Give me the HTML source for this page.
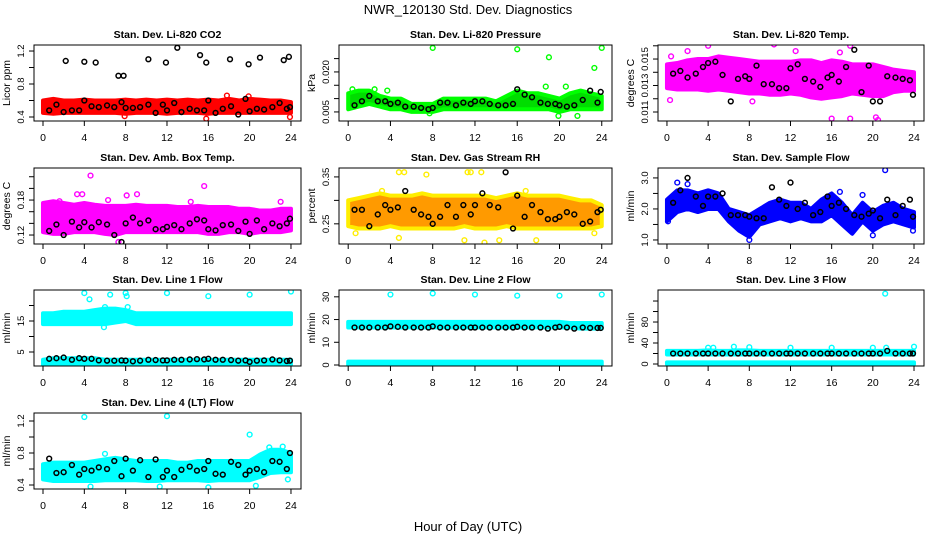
<!DOCTYPE html>
<html><head><meta charset="utf-8">
<style>
body{margin:0;background:#fff;}
svg text{font-family:"Liberation Sans",sans-serif;}
</style></head>
<body>
<svg id="chart" width="936" height="540" viewBox="0 0 936 540" xmlns="http://www.w3.org/2000/svg">
<rect x="0" y="0" width="936" height="540" fill="#fff"/>
<text x="468" y="14" font-size="13" text-anchor="middle">NWR_120130  Std. Dev. Diagnostics</text>
<text x="468" y="531" font-size="13" text-anchor="middle">Hour of Day (UTC)</text>
<g id="panels"></g>
</svg>
<script>
const hours = [0,1,2,3,4,5,6,7,8,9,10,11,12,13,14,15,16,17,18,19,20,21,22,23,24];
const blackHours = [0.6,1.3,2.0,2.8,3.5,4.0,4.7,5.4,6.2,6.9,7.6,8.0,8.7,9.4,10.2,10.9,11.6,12.0,12.7,13.4,14.2,14.9,15.6,16.0,16.7,17.4,18.2,18.9,19.6,20.0,20.7,21.4,22.2,22.9,23.6,23.9];
const xTicks = [0,4,8,12,16,20,24];

// CO2
const co2Lo = [0.45,0.44,0.45,0.45,0.45,0.45,0.45,0.45,0.44,0.45,0.45,0.45,0.44,0.45,0.45,0.45,0.44,0.45,0.45,0.45,0.45,0.45,0.45,0.45,0.45];
const co2Hi = [0.6,0.62,0.6,0.6,0.61,0.6,0.6,0.6,0.61,0.6,0.61,0.6,0.61,0.6,0.61,0.6,0.61,0.6,0.62,0.6,0.62,0.61,0.6,0.6,0.58];
const co2OutX = [7.9,15.8,17.8,19.9,23.9];
const co2OutY = [0.41,0.38,0.66,0.65,0.4];
const co2Black = [0.48,0.55,0.46,0.48,0.48,0.6,0.53,0.52,0.54,0.52,0.58,0.51,0.51,0.52,0.55,0.45,0.55,0.48,0.57,0.46,0.5,0.48,0.48,0.6,0.45,0.5,0.53,0.43,0.62,0.47,0.5,0.49,0.52,0.57,0.5,0.52];
const co2HighX = [2.2,4.0,5.1,7.3,7.8,10.2,11.9,13.0,15.2,15.8,18.1,19.9,21.0,23.3,23.8];
const co2HighY = [1.08,1.07,1.06,0.9,0.9,1.1,1.06,1.24,1.15,1.06,1.1,1.04,1.12,1.09,1.13];

// Pressure
const presLo = [0.006,0.007,0.008,0.007,0.006,0.006,0.005,0.005,0.005,0.006,0.006,0.006,0.006,0.006,0.006,0.006,0.006,0.006,0.006,0.006,0.005,0.006,0.006,0.006,0.006];
const presHi = [0.012,0.013,0.013,0.011,0.010,0.010,0.008,0.008,0.008,0.010,0.010,0.010,0.010,0.010,0.009,0.011,0.013,0.012,0.012,0.011,0.010,0.012,0.013,0.012,0.011];
const presOutX = [8.0,16.0,19.0,23.3,24.0,18.7,20.6,19.9,21.7,7.7,0.4,2.5,3.7];
const presOutY = [0.029,0.0285,0.0255,0.0215,0.029,0.0145,0.0145,0.0035,0.0035,0.0045,0.0135,0.0135,0.013];
const presBlack = [0.0075,0.009,0.011,0.009,0.009,0.008,0.0085,0.007,0.007,0.0065,0.006,0.0065,0.0085,0.0085,0.0075,0.0085,0.008,0.009,0.009,0.008,0.0075,0.0075,0.008,0.0135,0.0115,0.0105,0.0085,0.008,0.008,0.0075,0.007,0.0075,0.0095,0.013,0.0085,0.0125];

// Li-820 Temp
const tempLo = [0.0128,0.0127,0.0127,0.0127,0.0126,0.0127,0.0126,0.0125,0.0124,0.0124,0.0123,0.0123,0.0124,0.0123,0.0121,0.012,0.0121,0.0122,0.0124,0.0123,0.0122,0.0122,0.0125,0.0126,0.0126];
const tempHi = [0.0146,0.0147,0.0149,0.0150,0.0150,0.0152,0.0151,0.0150,0.0149,0.0148,0.0148,0.0148,0.0148,0.0149,0.0149,0.0147,0.0149,0.0148,0.0146,0.0146,0.0146,0.0144,0.0142,0.0141,0.0140];
const tempOutX = [0.3,2.0,4.0,8.3,10.4,12.5,16.0,17.8,17.8,18.8,20.3,20.5,0.4,16.8];
const tempOutY = [0.0119,0.0156,0.0160,0.0118,0.0161,0.0156,0.0105,0.0105,0.0160,0.0163,0.0106,0.0104,0.0152,0.0155];
const tempBlack = [0.0139,0.0141,0.0136,0.0139,0.0144,0.0147,0.0148,0.0138,0.0118,0.0135,0.0137,0.0135,0.0145,0.0131,0.0131,0.0128,0.0128,0.0143,0.0146,0.0135,0.0133,0.0129,0.0136,0.0138,0.0133,0.0144,0.0157,0.0125,0.0145,0.0118,0.0118,0.0137,0.0136,0.0135,0.0134,0.0123];

// Amb box temp
const ambLo = [0.125,0.122,0.122,0.125,0.125,0.125,0.122,0.12,0.125,0.125,0.125,0.125,0.125,0.125,0.125,0.125,0.122,0.122,0.125,0.125,0.122,0.125,0.125,0.125,0.128];
const ambHi = [0.175,0.178,0.175,0.172,0.175,0.172,0.17,0.17,0.17,0.172,0.17,0.17,0.17,0.168,0.168,0.17,0.168,0.168,0.168,0.165,0.165,0.162,0.162,0.165,0.165];
const ambOutX = [4.6,15.6,3.3,3.8,8.1,9.1,1.6,23.0,7.3,0.8,6.3,14.3];
const ambOutY = [0.222,0.204,0.19,0.19,0.188,0.19,0.178,0.177,0.108,0.175,0.18,0.177];
const ambBlack = [0.127,0.138,0.12,0.143,0.133,0.142,0.133,0.142,0.138,0.12,0.108,0.14,0.15,0.14,0.145,0.13,0.13,0.134,0.137,0.13,0.14,0.147,0.145,0.13,0.128,0.137,0.138,0.127,0.143,0.122,0.145,0.13,0.14,0.135,0.14,0.148];

// Gas stream RH
const rhLo = [0.245,0.24,0.24,0.24,0.245,0.24,0.24,0.24,0.24,0.24,0.24,0.245,0.24,0.24,0.24,0.245,0.24,0.24,0.24,0.24,0.24,0.24,0.24,0.24,0.245];
const rhHi = [0.3,0.305,0.31,0.315,0.31,0.31,0.31,0.315,0.31,0.31,0.31,0.31,0.31,0.31,0.305,0.31,0.315,0.31,0.31,0.31,0.31,0.305,0.3,0.3,0.29];
const rhOutX = [4.8,5.3,7.4,11.3,11.6,12.6,0.7,4.8,11.0,12.9,14.3,17.8,23.3,3.2,16.8];
const rhOutY = [0.36,0.36,0.355,0.36,0.36,0.36,0.23,0.22,0.215,0.21,0.215,0.215,0.23,0.32,0.32];
const rhBlack = [0.28,0.28,0.245,0.27,0.29,0.28,0.285,0.32,0.28,0.27,0.265,0.25,0.265,0.29,0.265,0.29,0.27,0.29,0.315,0.29,0.285,0.36,0.24,0.31,0.265,0.29,0.275,0.26,0.26,0.265,0.275,0.27,0.25,0.255,0.275,0.28];

// Sample flow
const sfLo = [1.6,1.9,2.0,1.9,2.0,2.0,1.6,1.3,1.1,1.5,1.6,1.7,1.6,1.7,1.6,1.6,1.8,1.5,1.2,1.6,1.3,1.5,1.6,1.5,1.4];
const sfHi = [2.3,2.6,2.6,2.5,2.6,2.5,2.0,1.9,1.8,2.0,2.2,2.3,2.2,2.2,2.0,2.3,2.5,2.2,1.8,2.2,1.9,2.1,2.2,2.0,1.9];
const sfOutX = [1.0,2.0,21.2,23.9,20.0,8.0,0.1,16.8,19.0];
const sfOutY = [2.85,2.8,3.25,1.3,1.15,1.0,1.6,2.55,2.45];
const sfBlack = [2.2,2.6,3.0,2.4,2.1,2.4,2.4,2.5,1.8,1.8,1.8,1.75,1.7,1.7,2.7,2.3,2.1,2.85,2.0,2.2,1.8,1.9,2.4,2.1,2.2,2.0,1.8,1.75,1.85,1.95,1.7,2.3,1.8,2.1,2.3,1.75];

// Line 1
const l1Lo = [14,14,14,14,14,14,14,14.5,15,14,14,14,14,14,14,14,14,14,14,14,14,14,14,14,14];
const l1Hi = [17.5,17.5,18,18,18,18.5,19,19,18.5,17.5,17.5,17.5,17.5,17.5,17.5,17.5,17.5,17.5,17.5,17.5,17.5,17.5,17.5,17.5,17.5];
const l1Lo2 = [1,1,1,1,1,1,1,1,1,1,1,1,1,1,1,1,1,1,1,1,1,1,1,1,1];
const l1Hi2 = [2.5,3,3,3,3,3,2.5,2.5,2.5,2.5,2.5,2.5,2.5,2.5,2.5,2.5,2.5,2.5,2.5,2.5,2.5,2.5,2.5,2.5,2.5];
const l1OutX = [4.0,4.5,6.5,8.0,8.1,12.0,16.0,20.0,24.0,6.0,8.2,5.9];
const l1OutY = [24,22,23.5,24,23,24,23,23.5,24.5,19.5,19.5,13];
const l1Black = [2.8,3,3.2,2.5,3,2.8,2.8,2.3,2.2,2.2,2.3,2.2,2,2.2,2.5,2.4,2.3,2.3,2.5,2.5,2.6,2.7,2.6,2.8,2.5,2.5,2.4,2.2,2.3,1.8,2.2,2.3,2.6,2.3,2.1,2.2];

// Line 2
const l2Lo = [16.5,16.5,16.5,16.5,16.5,16.5,16.5,16.5,16.5,16.5,16.5,16.5,16.5,16.5,16.5,16.5,16.5,16.5,16.5,16.5,16.5,16.5,16,16,16];
const l2Hi = [19,19,19,19,19,19,19,19,19,19,19,19,19,19,19,19,19,19,19,19,19,18.5,18.5,18.5,18.5];
const l2Lo2 = [0,0,0,0,0,0,0,0,0,0,0,0,0,0,0,0,0,0,0,0,0,0,0,0,0];
const l2Hi2 = [1.5,1.5,1.5,1.5,1.5,1.5,1.5,1.5,1.5,1.5,1.5,1.5,1.5,1.5,1.5,1.5,1.5,1.5,1.5,1.5,1.5,1.5,1.5,1.5,1.5];
const l2OutX = [4,8,12,16,20,24];
const l2OutY = [31,31.5,31,30.5,30.5,31];
const l2Black = [16.5,16.5,16.5,16.5,16.5,17,16.8,16.5,16.5,16.5,16.5,17,16.5,16.5,16.5,16.5,16.5,16.5,16.5,16.5,16.5,16.5,16.5,16.8,16.5,16.5,16.5,16,16.5,16.8,16.5,16,16.5,16.3,16.3,16.3];

// Line 3
const l3Lo = [18,18,18,18,18,18,18,18,18,18,18,18,18,18,18,18,18,18,18,18,18,18,18,18,18];
const l3Hi = [25,25,25,25,26,25,25,26,26,25,25,25,25,25,25,25,25,25,25,25,25,25,25,25,25];
const l3Lo2 = [0,0,0,0,0,0,0,0,0,0,0,0,0,0,0,0,0,0,0,0,0,0,0,0,0];
const l3Hi2 = [3,3,3,3,3,3,3,3,3,3,3,3,3,3,3,3,3,3,3,3,3,3,3,3,3];
const l3OutX = [21.2,4.0,4.5,6.5,8.0,12.0,16.0,20.0,21.3,24.0];
const l3OutY = [134,31,31,33,32,31,31,31,31,33];
const l3Black = [20,20,20,20,20,20,20,20,20,20,20,20,20,20,20,20,20,20,20,20,20,20,20,20,20,20,20,20,20,20,20,25,20,20,20,20];

// Line 4
const l4Lo = [0.47,0.45,0.45,0.45,0.45,0.45,0.46,0.46,0.46,0.46,0.45,0.45,0.46,0.46,0.46,0.46,0.45,0.46,0.46,0.46,0.46,0.5,0.55,0.56,0.56];
const l4Hi = [0.66,0.68,0.68,0.68,0.68,0.7,0.72,0.74,0.72,0.7,0.7,0.7,0.7,0.68,0.68,0.7,0.7,0.7,0.7,0.7,0.7,0.78,0.84,0.84,0.8];
const l4OutX = [4.0,12.0,20.0,4.6,11.3,16.0,20.6,6.0,21.9,23.2,23.7];
const l4OutY = [1.25,1.26,1.03,0.38,0.38,0.37,0.39,0.79,0.87,0.88,0.47];
const l4Black = [0.73,0.55,0.56,0.65,0.53,0.6,0.58,0.62,0.6,0.7,0.51,0.73,0.58,0.71,0.5,0.72,0.5,0.58,0.5,0.59,0.63,0.58,0.6,0.7,0.54,0.53,0.69,0.65,0.53,0.58,0.6,0.56,0.7,0.69,0.6,0.8];

const NS = "http://www.w3.org/2000/svg";
const colL = [34,339,658], colR = [301,612,924];
const rowT = [45,168,290,413], rowB = [121,244,366,489];

function mk(tag, attrs, parent){
  const e = document.createElementNS(NS, tag);
  for (const k in attrs) e.setAttribute(k, attrs[k]);
  parent.appendChild(e);
  return e;
}

const panels = [
 {name:"co2", title:"Stan. Dev. Li-820 CO2", ylab:"Licor ppm", col:0,row:0, dom:[0.3515,1.273], ticks:[0.4,0.6,0.8,1.0,1.2], labels:["0.4","","0.8","","1.2"], color:"#ff0000", stroke:"#ff0000", bands:[[co2Lo,co2Hi]], outX:co2OutX,outY:co2OutY, black:co2Black, extraX:co2HighX, extraY:co2HighY},
 {name:"pressure", title:"Stan. Dev. Li-820 Pressure", ylab:"kPa", col:1,row:0, dom:[0.0016,0.0301], ticks:[0.005,0.010,0.015,0.020,0.025], labels:["0.005","","","0.020",""], color:"#00dd00", stroke:"#00ff00", bands:[[presLo,presHi]], outX:presOutX,outY:presOutY, black:presBlack},
 {name:"li820-temp", title:"Stan. Dev. Li-820 Temp.", ylab:"degrees C", col:2,row:0, dom:[0.01032,0.01606], ticks:[0.011,0.012,0.013,0.014,0.015,0.016], labels:["0.011","","0.013","","0.015",""], color:"#ff00ff", stroke:"#ff00ff", bands:[[tempLo,tempHi]], outX:tempOutX,outY:tempOutY, black:tempBlack},
 {name:"amb-box-temp", title:"Stan. Dev. Amb. Box Temp.", ylab:"degrees C", col:0,row:1, dom:[0.1046,0.235], ticks:[0.12,0.14,0.16,0.18,0.20,0.22], labels:["0.12","","","0.18","",""], color:"#ff00ff", stroke:"#ff00ff", bands:[[ambLo,ambHi]], outX:ambOutX,outY:ambOutY, black:ambBlack},
 {name:"gas-stream-rh", title:"Stan. Dev. Gas Stream RH", ylab:"percent", col:1,row:1, dom:[0.207,0.369], ticks:[0.25,0.30,0.35], labels:["0.25","","0.35"], color:"#ff9a00", stroke:"#ffee00", bands:[[rhLo,rhHi]], outX:rhOutX,outY:rhOutY, black:rhBlack},
 {name:"sample-flow", title:"Stan. Dev. Sample Flow", ylab:"ml/min", col:2,row:1, dom:[0.87,3.32], ticks:[1.0,1.5,2.0,2.5,3.0], labels:["1.0","","2.0","","3.0"], color:"#0000ff", stroke:"#0000ff", bands:[[sfLo,sfHi]], outX:sfOutX,outY:sfOutY, black:sfBlack},
 {name:"line1-flow", title:"Stan. Dev. Line 1 Flow", ylab:"ml/min", col:0,row:2, dom:[0.48,25], ticks:[5,10,15,20], labels:["5","","15",""], color:"#00ffff", stroke:"#00ffff", bands:[[l1Lo,l1Hi],[l1Lo2,l1Hi2]], outX:l1OutX,outY:l1OutY, black:l1Black},
 {name:"line2-flow", title:"Stan. Dev. Line 2 Flow", ylab:"ml/min", col:1,row:2, dom:[-0.44,33], ticks:[0,10,20,30], labels:["0","10","20","30"], color:"#00ffff", stroke:"#00ffff", bands:[[l2Lo,l2Hi],[l2Lo2,l2Hi2]], outX:l2OutX,outY:l2OutY, black:l2Black},
 {name:"line3-flow", title:"Stan. Dev. Line 3 Flow", ylab:"ml/min", col:2,row:2, dom:[-3.8,141], ticks:[0,20,40,60,80,100,120], labels:["0","","40","","80","",""], color:"#00ffff", stroke:"#00ffff", bands:[[l3Lo,l3Hi],[l3Lo2,l3Hi2]], outX:l3OutX,outY:l3OutY, black:l3Black},
 {name:"line4-flow", title:"Stan. Dev. Line 4 (LT) Flow", ylab:"ml/min", col:0,row:3, dom:[0.35,1.30], ticks:[0.4,0.6,0.8,1.0,1.2], labels:["0.4","","0.8","","1.2"], color:"#00ffff", stroke:"#00ffff", bands:[[l4Lo,l4Hi]], outX:l4OutX,outY:l4OutY, black:l4Black}
];

const root = document.getElementById("panels");
panels.forEach(p => {
  const L = colL[p.col], R = colR[p.col], T = rowT[p.row], B = rowB[p.row];
  const xs = h => L + (h + 0.87) / 25.84 * (R - L);
  const ys = v => B - (v - p.dom[0]) / (p.dom[1] - p.dom[0]) * (B - T);
  const g = mk("g", {}, root);
  
  
  const clip = mk("clipPath", {id: "clip-" + p.name}, g);
  mk("rect", {x: L, y: T, width: R - L, height: B - T}, clip);
  const plot = mk("g", {"clip-path": "url(#clip-" + p.name + ")"}, g);
  
  
  p.bands.forEach(b => {
    let pts = [];
    for (let i = 0; i < hours.length; i++) pts.push(xs(hours[i]) + "," + ys(b[1][i]));
    for (let i = hours.length - 1; i >= 0; i--) pts.push(xs(hours[i]) + "," + ys(b[0][i]));
    const poly = mk("polygon", {points: pts.join(" "), fill: p.color, stroke: p.stroke, "stroke-width": 4, "stroke-linejoin": "round"}, plot);
    
    
  });
  p.outX.forEach((h, i) => {
    const c = mk("circle", {cx: xs(h), cy: ys(p.outY[i]), r: 2.4, fill: "none", stroke: p.stroke, "stroke-width": 1.4}, plot);
    
    
  });
  p.black.forEach((v, i) => {
    const c = mk("circle", {cx: xs(blackHours[i]), cy: ys(v), r: 2.4, fill: "none", stroke: "#000", "stroke-width": 1.5}, plot);
    
    
  });
  if (p.extraX) p.extraX.forEach((h, i) => {
    const c = mk("circle", {cx: xs(h), cy: ys(p.extraY[i]), r: 2.4, fill: "none", stroke: "#000", "stroke-width": 1.5}, plot);
    
    
  });
  const box = mk("rect", {x: L, y: T, width: R - L, height: B - T, fill: "none", stroke: "#000", "stroke-width": 1}, g);
  
  
  const t = mk("text", {x: (L + R) / 2, y: T - 7, "font-size": 10.5, "font-weight": "bold", "text-anchor": "middle"}, g);
  t.textContent = p.title;
  
  
  xTicks.forEach(h => {
    mk("line", {x1: xs(h), x2: xs(h), y1: B, y2: B + 5, stroke: "#000"}, g);
    const tl = mk("text", {x: xs(h), y: B + 20, "font-size": 10.5, "text-anchor": "middle"}, g);
    tl.textContent = h;
    
    
  });
  p.ticks.forEach((v, i) => {
    const y = ys(v);
    mk("line", {x1: L - 5, x2: L, y1: y, y2: y, stroke: "#000"}, g);
    if (p.labels[i]) {
      const yl = mk("text", {x: L - 10, y: y, "font-size": 9.5, "text-anchor": "middle", transform: "rotate(-90 " + (L - 10) + " " + y + ")"}, g);
      yl.textContent = p.labels[i];
      
      
    }
  });
  const cy = (T + B) / 2;
  const at = mk("text", {x: L - 24, y: cy, "font-size": 10.5, "text-anchor": "middle", transform: "rotate(-90 " + (L - 24) + " " + cy + ")"}, g);
  at.textContent = p.ylab;
  
  
});
</script>
</body></html>
